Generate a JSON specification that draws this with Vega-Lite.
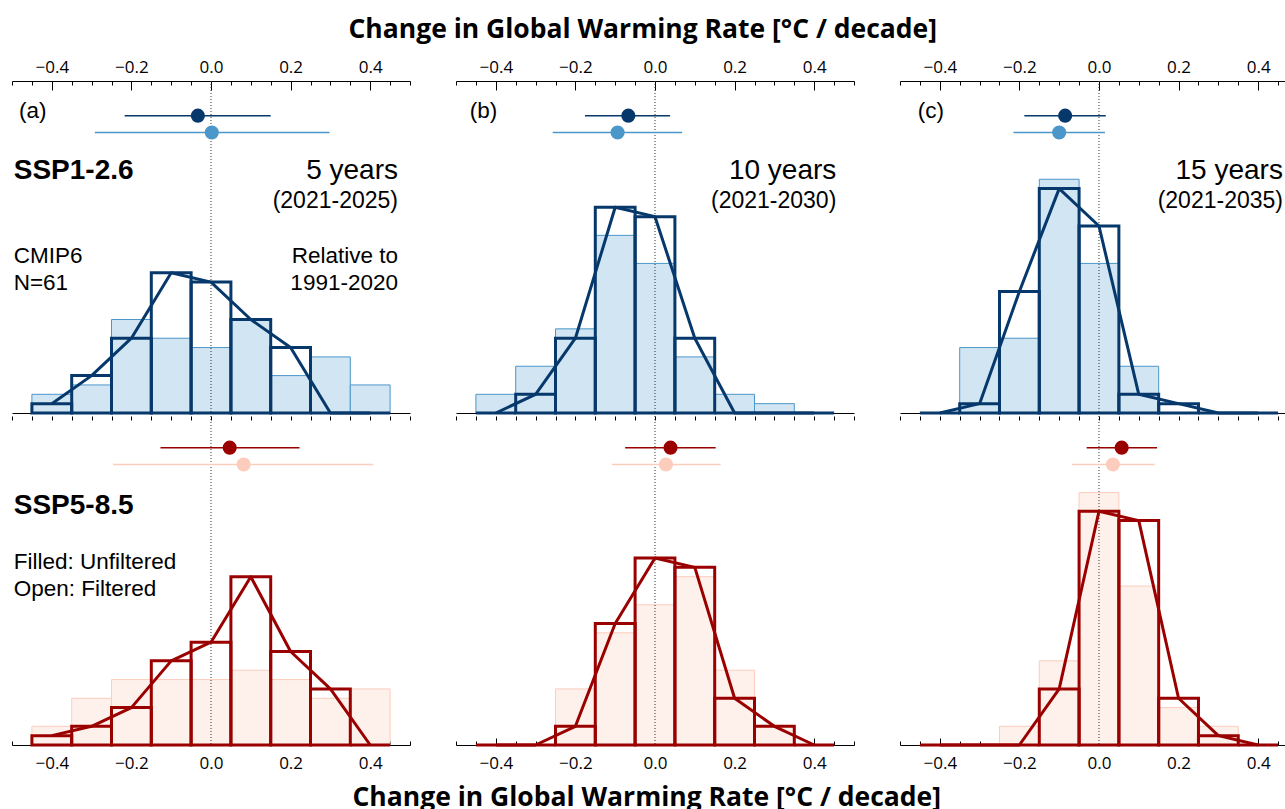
{
  "$schema": "https://vega.github.io/schema/vega-lite/v6.json",
  "padding": {"left": 11, "top": 16, "right": 0, "bottom": 0},
  "config": {"view": {"stroke": null}, "axisY": {"disable": true}},
  "datasets": {
    "hist": [
      {"scenario":"SSP1-2.6","period":5,"bin":-0.4,"lo":-0.45,"hi":-0.35,"unfiltered":2,"filtered":1},
      {"scenario":"SSP1-2.6","period":5,"bin":-0.3,"lo":-0.35,"hi":-0.25,"unfiltered":3,"filtered":4},
      {"scenario":"SSP1-2.6","period":5,"bin":-0.2,"lo":-0.25,"hi":-0.15,"unfiltered":10,"filtered":8},
      {"scenario":"SSP1-2.6","period":5,"bin":-0.1,"lo":-0.15,"hi":-0.05,"unfiltered":8,"filtered":15},
      {"scenario":"SSP1-2.6","period":5,"bin":0.0,"lo":-0.05,"hi":0.05,"unfiltered":7,"filtered":14},
      {"scenario":"SSP1-2.6","period":5,"bin":0.1,"lo":0.05,"hi":0.15,"unfiltered":10,"filtered":10},
      {"scenario":"SSP1-2.6","period":5,"bin":0.2,"lo":0.15,"hi":0.25,"unfiltered":4,"filtered":7},
      {"scenario":"SSP1-2.6","period":5,"bin":0.3,"lo":0.25,"hi":0.35,"unfiltered":6,"filtered":0},
      {"scenario":"SSP1-2.6","period":5,"bin":0.4,"lo":0.35,"hi":0.45,"unfiltered":3,"filtered":0},
      {"scenario":"SSP1-2.6","period":10,"bin":-0.4,"lo":-0.45,"hi":-0.35,"unfiltered":2,"filtered":0},
      {"scenario":"SSP1-2.6","period":10,"bin":-0.3,"lo":-0.35,"hi":-0.25,"unfiltered":5,"filtered":2},
      {"scenario":"SSP1-2.6","period":10,"bin":-0.2,"lo":-0.25,"hi":-0.15,"unfiltered":9,"filtered":8},
      {"scenario":"SSP1-2.6","period":10,"bin":-0.1,"lo":-0.15,"hi":-0.05,"unfiltered":19,"filtered":22},
      {"scenario":"SSP1-2.6","period":10,"bin":0.0,"lo":-0.05,"hi":0.05,"unfiltered":16,"filtered":21},
      {"scenario":"SSP1-2.6","period":10,"bin":0.1,"lo":0.05,"hi":0.15,"unfiltered":6,"filtered":8},
      {"scenario":"SSP1-2.6","period":10,"bin":0.2,"lo":0.15,"hi":0.25,"unfiltered":2,"filtered":0},
      {"scenario":"SSP1-2.6","period":10,"bin":0.3,"lo":0.25,"hi":0.35,"unfiltered":1,"filtered":0},
      {"scenario":"SSP1-2.6","period":10,"bin":0.4,"lo":0.35,"hi":0.45,"unfiltered":0,"filtered":0},
      {"scenario":"SSP1-2.6","period":15,"bin":-0.4,"lo":-0.45,"hi":-0.35,"unfiltered":0,"filtered":0},
      {"scenario":"SSP1-2.6","period":15,"bin":-0.3,"lo":-0.35,"hi":-0.25,"unfiltered":7,"filtered":1},
      {"scenario":"SSP1-2.6","period":15,"bin":-0.2,"lo":-0.25,"hi":-0.15,"unfiltered":8,"filtered":13},
      {"scenario":"SSP1-2.6","period":15,"bin":-0.1,"lo":-0.15,"hi":-0.05,"unfiltered":25,"filtered":24},
      {"scenario":"SSP1-2.6","period":15,"bin":0.0,"lo":-0.05,"hi":0.05,"unfiltered":16,"filtered":20},
      {"scenario":"SSP1-2.6","period":15,"bin":0.1,"lo":0.05,"hi":0.15,"unfiltered":5,"filtered":2},
      {"scenario":"SSP1-2.6","period":15,"bin":0.2,"lo":0.15,"hi":0.25,"unfiltered":0,"filtered":1},
      {"scenario":"SSP1-2.6","period":15,"bin":0.3,"lo":0.25,"hi":0.35,"unfiltered":0,"filtered":0},
      {"scenario":"SSP1-2.6","period":15,"bin":0.4,"lo":0.35,"hi":0.45,"unfiltered":0,"filtered":0},
      {"scenario":"SSP5-8.5","period":5,"bin":-0.4,"lo":-0.45,"hi":-0.35,"unfiltered":2,"filtered":1},
      {"scenario":"SSP5-8.5","period":5,"bin":-0.3,"lo":-0.35,"hi":-0.25,"unfiltered":5,"filtered":2},
      {"scenario":"SSP5-8.5","period":5,"bin":-0.2,"lo":-0.25,"hi":-0.15,"unfiltered":7,"filtered":4},
      {"scenario":"SSP5-8.5","period":5,"bin":-0.1,"lo":-0.15,"hi":-0.05,"unfiltered":7,"filtered":9},
      {"scenario":"SSP5-8.5","period":5,"bin":0.0,"lo":-0.05,"hi":0.05,"unfiltered":7,"filtered":11},
      {"scenario":"SSP5-8.5","period":5,"bin":0.1,"lo":0.05,"hi":0.15,"unfiltered":8,"filtered":18},
      {"scenario":"SSP5-8.5","period":5,"bin":0.2,"lo":0.15,"hi":0.25,"unfiltered":7,"filtered":10},
      {"scenario":"SSP5-8.5","period":5,"bin":0.3,"lo":0.25,"hi":0.35,"unfiltered":5,"filtered":6},
      {"scenario":"SSP5-8.5","period":5,"bin":0.4,"lo":0.35,"hi":0.45,"unfiltered":6,"filtered":0},
      {"scenario":"SSP5-8.5","period":10,"bin":-0.4,"lo":-0.45,"hi":-0.35,"unfiltered":0,"filtered":0},
      {"scenario":"SSP5-8.5","period":10,"bin":-0.3,"lo":-0.35,"hi":-0.25,"unfiltered":0,"filtered":0},
      {"scenario":"SSP5-8.5","period":10,"bin":-0.2,"lo":-0.25,"hi":-0.15,"unfiltered":6,"filtered":2},
      {"scenario":"SSP5-8.5","period":10,"bin":-0.1,"lo":-0.15,"hi":-0.05,"unfiltered":12,"filtered":13},
      {"scenario":"SSP5-8.5","period":10,"bin":0.0,"lo":-0.05,"hi":0.05,"unfiltered":15,"filtered":20},
      {"scenario":"SSP5-8.5","period":10,"bin":0.1,"lo":0.05,"hi":0.15,"unfiltered":18,"filtered":19},
      {"scenario":"SSP5-8.5","period":10,"bin":0.2,"lo":0.15,"hi":0.25,"unfiltered":8,"filtered":5},
      {"scenario":"SSP5-8.5","period":10,"bin":0.3,"lo":0.25,"hi":0.35,"unfiltered":2,"filtered":2},
      {"scenario":"SSP5-8.5","period":10,"bin":0.4,"lo":0.35,"hi":0.45,"unfiltered":0,"filtered":0},
      {"scenario":"SSP5-8.5","period":15,"bin":-0.4,"lo":-0.45,"hi":-0.35,"unfiltered":0,"filtered":0},
      {"scenario":"SSP5-8.5","period":15,"bin":-0.3,"lo":-0.35,"hi":-0.25,"unfiltered":0,"filtered":0},
      {"scenario":"SSP5-8.5","period":15,"bin":-0.2,"lo":-0.25,"hi":-0.15,"unfiltered":2,"filtered":0},
      {"scenario":"SSP5-8.5","period":15,"bin":-0.1,"lo":-0.15,"hi":-0.05,"unfiltered":9,"filtered":6},
      {"scenario":"SSP5-8.5","period":15,"bin":0.0,"lo":-0.05,"hi":0.05,"unfiltered":27,"filtered":25},
      {"scenario":"SSP5-8.5","period":15,"bin":0.1,"lo":0.05,"hi":0.15,"unfiltered":17,"filtered":24},
      {"scenario":"SSP5-8.5","period":15,"bin":0.2,"lo":0.15,"hi":0.25,"unfiltered":4,"filtered":5},
      {"scenario":"SSP5-8.5","period":15,"bin":0.3,"lo":0.25,"hi":0.35,"unfiltered":2,"filtered":1},
      {"scenario":"SSP5-8.5","period":15,"bin":0.4,"lo":0.35,"hi":0.45,"unfiltered":0,"filtered":0}
    ],
    "err": [
      {"scenario":"SSP1-2.6","period":5,"type":"Filtered","mean":-0.033,"lo":-0.217,"hi":0.15},
      {"scenario":"SSP1-2.6","period":5,"type":"Unfiltered","mean":0.002,"lo":-0.292,"hi":0.298},
      {"scenario":"SSP1-2.6","period":10,"type":"Filtered","mean":-0.067,"lo":-0.176,"hi":0.038},
      {"scenario":"SSP1-2.6","period":10,"type":"Unfiltered","mean":-0.094,"lo":-0.257,"hi":0.068},
      {"scenario":"SSP1-2.6","period":15,"type":"Filtered","mean":-0.085,"lo":-0.1875,"hi":0.017},
      {"scenario":"SSP1-2.6","period":15,"type":"Unfiltered","mean":-0.1,"lo":-0.215,"hi":0.015},
      {"scenario":"SSP5-8.5","period":5,"type":"Filtered","mean":0.047,"lo":-0.127,"hi":0.2225},
      {"scenario":"SSP5-8.5","period":5,"type":"Unfiltered","mean":0.082,"lo":-0.246,"hi":0.408},
      {"scenario":"SSP5-8.5","period":10,"type":"Filtered","mean":0.039,"lo":-0.075,"hi":0.1525},
      {"scenario":"SSP5-8.5","period":10,"type":"Unfiltered","mean":0.0275,"lo":-0.108,"hi":0.165},
      {"scenario":"SSP5-8.5","period":15,"type":"Filtered","mean":0.057,"lo":-0.031,"hi":0.146},
      {"scenario":"SSP5-8.5","period":15,"type":"Unfiltered","mean":0.035,"lo":-0.068,"hi":0.14}
    ]
  },
  "spacing": 0,
  "vconcat": [
    {
      "spacing": 44,
      "title": {"text": "Change in Global Warming Rate [°C / decade]", "orient": "top", "anchor": "middle", "font": "Open Sans", "fontSize": 26.5, "fontWeight": "bold", "color": "#000", "offset": 10, "dx": -8},
      "hconcat": [
        {
          "width": 398, "height": 332,
          "resolve": {"axis": {"x": "independent"}},
          "layer": [
            {"data": {"name": "hist"}, "transform": [{"filter": "datum.scenario == 'SSP1-2.6' && datum.period == 5"}],
              "mark": {"type": "rect", "fill": "#d2e5f2", "stroke": "#4b97c9", "strokeWidth": 1},
              "encoding": {
                "x": {"field": "lo", "type": "quantitative", "scale": {"domain": [-0.5, 0.5], "nice": false, "zero": false},
                  "axis": {"orient": "top", "values": [-0.5,-0.45,-0.4,-0.35,-0.3,-0.25,-0.2,-0.15,-0.1,-0.05,0,0.05,0.1,0.15,0.2,0.25,0.3,0.35,0.4,0.45,0.5], "format": ".1f", "labelExpr": "round(datum.value*20) % 4 == 0 ? datum.label : ''", "tickSize": {"condition": {"test": "round(datum.value*20) % 4 == 0", "value": -9}, "value": -4}, "labelPadding": 14, "labelOverlap": false, "labelFont": "Open Sans", "labelFontSize": 17, "labelColor": "#000", "domainColor": "#000", "tickColor": "#000", "grid": false, "title": null}},
                "x2": {"field": "hi"},
                "y": {"field": "unfiltered", "type": "quantitative", "scale": {"domain": [0, 35.51], "nice": false}, "axis": null},
                "y2": {"datum": 0}}},
            {"data": {"values": [{}]}, "mark": {"type": "rule", "stroke": "#333", "strokeWidth": 1, "strokeDash": [1, 2]},
              "encoding": {"x": {"datum": 0, "type": "quantitative", "axis": null}}},
            {"data": {"name": "hist"}, "transform": [{"filter": "datum.scenario == 'SSP1-2.6' && datum.period == 5"}],
              "mark": {"type": "rect", "filled": false, "stroke": "#06386c", "strokeWidth": 3},
              "encoding": {
                "x": {"field": "lo", "type": "quantitative", "axis": {"orient": "bottom", "ticks": false, "labels": false, "domainColor": "#000", "grid": false, "title": null, "minExtent": 0, "maxExtent": 0}},
                "x2": {"field": "hi"},
                "y": {"field": "filtered", "type": "quantitative", "axis": null},
                "y2": {"datum": 0}}},
            {"data": {"name": "hist"}, "transform": [{"filter": "datum.scenario == 'SSP1-2.6' && datum.period == 5"}],
              "mark": {"type": "line", "stroke": "#06386c", "strokeWidth": 3, "strokeJoin": "round"},
              "encoding": {"x": {"field": "bin", "type": "quantitative", "axis": null}, "y": {"field": "filtered", "type": "quantitative", "axis": null}}},
            {"data": {"name": "err"}, "transform": [{"filter": "datum.scenario == 'SSP1-2.6' && datum.period == 5 && datum.type == 'Filtered'"}],
              "mark": {"type": "rule", "stroke": "#06386c", "strokeWidth": 1.5},
              "encoding": {"x": {"field": "lo", "type": "quantitative", "axis": null}, "x2": {"field": "hi"}, "y": {"datum": 31.8, "type": "quantitative", "axis": null}}},
            {"data": {"name": "err"}, "transform": [{"filter": "datum.scenario == 'SSP1-2.6' && datum.period == 5 && datum.type == 'Filtered'"}],
              "mark": {"type": "circle", "color": "#06386c", "size": 200, "opacity": 1},
              "encoding": {"x": {"field": "mean", "type": "quantitative", "axis": null}, "y": {"datum": 31.8, "type": "quantitative", "axis": null}}},
            {"data": {"name": "err"}, "transform": [{"filter": "datum.scenario == 'SSP1-2.6' && datum.period == 5 && datum.type == 'Unfiltered'"}],
              "mark": {"type": "rule", "stroke": "#4b97c9", "strokeWidth": 1.5},
              "encoding": {"x": {"field": "lo", "type": "quantitative", "axis": null}, "x2": {"field": "hi"}, "y": {"datum": 30.0, "type": "quantitative", "axis": null}}},
            {"data": {"name": "err"}, "transform": [{"filter": "datum.scenario == 'SSP1-2.6' && datum.period == 5 && datum.type == 'Unfiltered'"}],
              "mark": {"type": "circle", "color": "#4b97c9", "size": 200, "opacity": 1},
              "encoding": {"x": {"field": "mean", "type": "quantitative", "axis": null}, "y": {"datum": 30.0, "type": "quantitative", "axis": null}}},
            {"data": {"values": [{}]}, "mark": {"type": "text", "text": "(a)", "font": "Liberation Sans", "fontSize": 22.5, "align": "left", "baseline": "alphabetic", "color": "#000"}, "encoding": {"x": {"datum": -0.4824, "type": "quantitative", "axis": null}, "y": {"datum": 31.6, "type": "quantitative", "axis": null}}},
            {"data": {"values": [{}]}, "mark": {"type": "text", "text": "SSP1-2.6", "font": "Liberation Sans", "fontWeight": "bold", "fontSize": 28, "align": "left", "baseline": "alphabetic", "color": "#000"}, "encoding": {"x": {"datum": -0.4957, "type": "quantitative", "axis": null}, "y": {"datum": 25.03, "type": "quantitative", "axis": null}}},
            {"data": {"values": [{}]}, "mark": {"type": "text", "text": "5 years", "font": "Liberation Sans", "fontSize": 28, "align": "right", "baseline": "alphabetic", "color": "#000"}, "encoding": {"x": {"datum": 0.4698, "type": "quantitative", "axis": null}, "y": {"datum": 25.03, "type": "quantitative", "axis": null}}},
            {"data": {"values": [{}]}, "mark": {"type": "text", "text": "(2021-2025)", "font": "Liberation Sans", "fontSize": 23, "align": "right", "baseline": "alphabetic", "color": "#000"}, "encoding": {"x": {"datum": 0.4698, "type": "quantitative", "axis": null}, "y": {"datum": 21.96, "type": "quantitative", "axis": null}}},
            {"data": {"values": [{}]}, "mark": {"type": "text", "text": ["CMIP6", "N=61"], "lineHeight": 27.6, "font": "Liberation Sans", "fontSize": 22.5, "align": "left", "baseline": "alphabetic", "color": "#000"}, "encoding": {"x": {"datum": -0.4957, "type": "quantitative", "axis": null}, "y": {"datum": 16.07, "type": "quantitative", "axis": null}}},
            {"data": {"values": [{}]}, "mark": {"type": "text", "text": ["Relative to", "1991-2020"], "lineHeight": 27.6, "font": "Liberation Sans", "fontSize": 22.5, "align": "right", "baseline": "alphabetic", "color": "#000"}, "encoding": {"x": {"datum": 0.4698, "type": "quantitative", "axis": null}, "y": {"datum": 16.07, "type": "quantitative", "axis": null}}}
          ]
        },
        {
          "width": 398, "height": 332,
          "resolve": {"axis": {"x": "independent"}},
          "layer": [
            {"data": {"name": "hist"}, "transform": [{"filter": "datum.scenario == 'SSP1-2.6' && datum.period == 10"}],
              "mark": {"type": "rect", "fill": "#d2e5f2", "stroke": "#4b97c9", "strokeWidth": 1},
              "encoding": {
                "x": {"field": "lo", "type": "quantitative", "scale": {"domain": [-0.5, 0.5], "nice": false, "zero": false},
                  "axis": {"orient": "top", "values": [-0.5,-0.45,-0.4,-0.35,-0.3,-0.25,-0.2,-0.15,-0.1,-0.05,0,0.05,0.1,0.15,0.2,0.25,0.3,0.35,0.4,0.45,0.5], "format": ".1f", "labelExpr": "round(datum.value*20) % 4 == 0 ? datum.label : ''", "tickSize": {"condition": {"test": "round(datum.value*20) % 4 == 0", "value": -9}, "value": -4}, "labelPadding": 14, "labelOverlap": false, "labelFont": "Open Sans", "labelFontSize": 17, "labelColor": "#000", "domainColor": "#000", "tickColor": "#000", "grid": false, "title": null}},
                "x2": {"field": "hi"},
                "y": {"field": "unfiltered", "type": "quantitative", "scale": {"domain": [0, 35.51], "nice": false}, "axis": null},
                "y2": {"datum": 0}}},
            {"data": {"values": [{}]}, "mark": {"type": "rule", "stroke": "#333", "strokeWidth": 1, "strokeDash": [1, 2]},
              "encoding": {"x": {"datum": 0, "type": "quantitative", "axis": null}}},
            {"data": {"name": "hist"}, "transform": [{"filter": "datum.scenario == 'SSP1-2.6' && datum.period == 10"}],
              "mark": {"type": "rect", "filled": false, "stroke": "#06386c", "strokeWidth": 3},
              "encoding": {
                "x": {"field": "lo", "type": "quantitative", "axis": {"orient": "bottom", "ticks": false, "labels": false, "domainColor": "#000", "grid": false, "title": null, "minExtent": 0, "maxExtent": 0}},
                "x2": {"field": "hi"},
                "y": {"field": "filtered", "type": "quantitative", "axis": null},
                "y2": {"datum": 0}}},
            {"data": {"name": "hist"}, "transform": [{"filter": "datum.scenario == 'SSP1-2.6' && datum.period == 10"}],
              "mark": {"type": "line", "stroke": "#06386c", "strokeWidth": 3, "strokeJoin": "round"},
              "encoding": {"x": {"field": "bin", "type": "quantitative", "axis": null}, "y": {"field": "filtered", "type": "quantitative", "axis": null}}},
            {"data": {"name": "err"}, "transform": [{"filter": "datum.scenario == 'SSP1-2.6' && datum.period == 10 && datum.type == 'Filtered'"}],
              "mark": {"type": "rule", "stroke": "#06386c", "strokeWidth": 1.5},
              "encoding": {"x": {"field": "lo", "type": "quantitative", "axis": null}, "x2": {"field": "hi"}, "y": {"datum": 31.8, "type": "quantitative", "axis": null}}},
            {"data": {"name": "err"}, "transform": [{"filter": "datum.scenario == 'SSP1-2.6' && datum.period == 10 && datum.type == 'Filtered'"}],
              "mark": {"type": "circle", "color": "#06386c", "size": 200, "opacity": 1},
              "encoding": {"x": {"field": "mean", "type": "quantitative", "axis": null}, "y": {"datum": 31.8, "type": "quantitative", "axis": null}}},
            {"data": {"name": "err"}, "transform": [{"filter": "datum.scenario == 'SSP1-2.6' && datum.period == 10 && datum.type == 'Unfiltered'"}],
              "mark": {"type": "rule", "stroke": "#4b97c9", "strokeWidth": 1.5},
              "encoding": {"x": {"field": "lo", "type": "quantitative", "axis": null}, "x2": {"field": "hi"}, "y": {"datum": 30.0, "type": "quantitative", "axis": null}}},
            {"data": {"name": "err"}, "transform": [{"filter": "datum.scenario == 'SSP1-2.6' && datum.period == 10 && datum.type == 'Unfiltered'"}],
              "mark": {"type": "circle", "color": "#4b97c9", "size": 200, "opacity": 1},
              "encoding": {"x": {"field": "mean", "type": "quantitative", "axis": null}, "y": {"datum": 30.0, "type": "quantitative", "axis": null}}},
            {"data": {"values": [{}]}, "mark": {"type": "text", "text": "(b)", "font": "Liberation Sans", "fontSize": 22.5, "align": "left", "baseline": "alphabetic", "color": "#000"}, "encoding": {"x": {"datum": -0.4656, "type": "quantitative", "axis": null}, "y": {"datum": 31.6, "type": "quantitative", "axis": null}}},
            {"data": {"values": [{}]}, "mark": {"type": "text", "text": "10 years", "font": "Liberation Sans", "fontSize": 28, "align": "right", "baseline": "alphabetic", "color": "#000"}, "encoding": {"x": {"datum": 0.4555, "type": "quantitative", "axis": null}, "y": {"datum": 25.03, "type": "quantitative", "axis": null}}},
            {"data": {"values": [{}]}, "mark": {"type": "text", "text": "(2021-2030)", "font": "Liberation Sans", "fontSize": 23, "align": "right", "baseline": "alphabetic", "color": "#000"}, "encoding": {"x": {"datum": 0.4555, "type": "quantitative", "axis": null}, "y": {"datum": 21.96, "type": "quantitative", "axis": null}}}
          ]
        },
        {
          "width": 390, "height": 332,
          "resolve": {"axis": {"x": "independent"}},
          "layer": [
            {"data": {"name": "hist"}, "transform": [{"filter": "datum.scenario == 'SSP1-2.6' && datum.period == 15"}],
              "mark": {"type": "rect", "fill": "#d2e5f2", "stroke": "#4b97c9", "strokeWidth": 1},
              "encoding": {
                "x": {"field": "lo", "type": "quantitative", "scale": {"domain": [-0.5, 0.48], "nice": false, "zero": false},
                  "axis": {"orient": "top", "values": [-0.5,-0.45,-0.4,-0.35,-0.3,-0.25,-0.2,-0.15,-0.1,-0.05,0,0.05,0.1,0.15,0.2,0.25,0.3,0.35,0.4,0.45], "format": ".1f", "labelExpr": "round(datum.value*20) % 4 == 0 ? datum.label : ''", "tickSize": {"condition": {"test": "round(datum.value*20) % 4 == 0", "value": -9}, "value": -4}, "labelPadding": 14, "labelOverlap": false, "labelFont": "Open Sans", "labelFontSize": 17, "labelColor": "#000", "domainColor": "#000", "tickColor": "#000", "grid": false, "title": null}},
                "x2": {"field": "hi"},
                "y": {"field": "unfiltered", "type": "quantitative", "scale": {"domain": [0, 35.51], "nice": false}, "axis": null},
                "y2": {"datum": 0}}},
            {"data": {"values": [{}]}, "mark": {"type": "rule", "stroke": "#333", "strokeWidth": 1, "strokeDash": [1, 2]},
              "encoding": {"x": {"datum": 0, "type": "quantitative", "axis": null}}},
            {"data": {"name": "hist"}, "transform": [{"filter": "datum.scenario == 'SSP1-2.6' && datum.period == 15"}],
              "mark": {"type": "rect", "filled": false, "stroke": "#06386c", "strokeWidth": 3},
              "encoding": {
                "x": {"field": "lo", "type": "quantitative", "axis": {"orient": "bottom", "ticks": false, "labels": false, "domainColor": "#000", "grid": false, "title": null, "minExtent": 0, "maxExtent": 0}},
                "x2": {"field": "hi"},
                "y": {"field": "filtered", "type": "quantitative", "axis": null},
                "y2": {"datum": 0}}},
            {"data": {"name": "hist"}, "transform": [{"filter": "datum.scenario == 'SSP1-2.6' && datum.period == 15"}],
              "mark": {"type": "line", "stroke": "#06386c", "strokeWidth": 3, "strokeJoin": "round"},
              "encoding": {"x": {"field": "bin", "type": "quantitative", "axis": null}, "y": {"field": "filtered", "type": "quantitative", "axis": null}}},
            {"data": {"name": "err"}, "transform": [{"filter": "datum.scenario == 'SSP1-2.6' && datum.period == 15 && datum.type == 'Filtered'"}],
              "mark": {"type": "rule", "stroke": "#06386c", "strokeWidth": 1.5},
              "encoding": {"x": {"field": "lo", "type": "quantitative", "axis": null}, "x2": {"field": "hi"}, "y": {"datum": 31.8, "type": "quantitative", "axis": null}}},
            {"data": {"name": "err"}, "transform": [{"filter": "datum.scenario == 'SSP1-2.6' && datum.period == 15 && datum.type == 'Filtered'"}],
              "mark": {"type": "circle", "color": "#06386c", "size": 200, "opacity": 1},
              "encoding": {"x": {"field": "mean", "type": "quantitative", "axis": null}, "y": {"datum": 31.8, "type": "quantitative", "axis": null}}},
            {"data": {"name": "err"}, "transform": [{"filter": "datum.scenario == 'SSP1-2.6' && datum.period == 15 && datum.type == 'Unfiltered'"}],
              "mark": {"type": "rule", "stroke": "#4b97c9", "strokeWidth": 1.5},
              "encoding": {"x": {"field": "lo", "type": "quantitative", "axis": null}, "x2": {"field": "hi"}, "y": {"datum": 30.0, "type": "quantitative", "axis": null}}},
            {"data": {"name": "err"}, "transform": [{"filter": "datum.scenario == 'SSP1-2.6' && datum.period == 15 && datum.type == 'Unfiltered'"}],
              "mark": {"type": "circle", "color": "#4b97c9", "size": 200, "opacity": 1},
              "encoding": {"x": {"field": "mean", "type": "quantitative", "axis": null}, "y": {"datum": 30.0, "type": "quantitative", "axis": null}}},
            {"data": {"values": [{}]}, "mark": {"type": "text", "text": "(c)", "font": "Liberation Sans", "fontSize": 22.5, "align": "left", "baseline": "alphabetic", "color": "#000"}, "encoding": {"x": {"datum": -0.4556, "type": "quantitative", "axis": null}, "y": {"datum": 31.6, "type": "quantitative", "axis": null}}},
            {"data": {"values": [{}]}, "mark": {"type": "text", "text": "15 years", "font": "Liberation Sans", "fontSize": 28, "align": "right", "baseline": "alphabetic", "color": "#000"}, "encoding": {"x": {"datum": 0.4623, "type": "quantitative", "axis": null}, "y": {"datum": 25.03, "type": "quantitative", "axis": null}}},
            {"data": {"values": [{}]}, "mark": {"type": "text", "text": "(2021-2035)", "font": "Liberation Sans", "fontSize": 23, "align": "right", "baseline": "alphabetic", "color": "#000"}, "encoding": {"x": {"datum": 0.4623, "type": "quantitative", "axis": null}, "y": {"datum": 21.96, "type": "quantitative", "axis": null}}}
          ]
        }
      ]
    },
    {
      "spacing": 44,
      "title": {"text": "Change in Global Warming Rate [°C / decade]", "orient": "bottom", "anchor": "middle", "font": "Open Sans", "fontSize": 26.5, "fontWeight": "bold", "color": "#000", "offset": 11, "dx": -4},
      "hconcat": [
        {
          "width": 398, "height": 329,
          "resolve": {"axis": {"x": "independent"}},
          "layer": [
            {"data": {"name": "hist"}, "transform": [{"filter": "datum.scenario == 'SSP5-8.5' && datum.period == 5"}],
              "mark": {"type": "rect", "fill": "#fef0ea", "stroke": "#fccdbd", "strokeWidth": 1},
              "encoding": {
                "x": {"field": "lo", "type": "quantitative", "scale": {"domain": [-0.5, 0.5], "nice": false, "zero": false},
                  "axis": {"orient": "top", "values": [-0.5,-0.45,-0.4,-0.35,-0.3,-0.25,-0.2,-0.15,-0.1,-0.05,0,0.05,0.1,0.15,0.2,0.25,0.3,0.35,0.4,0.45,0.5], "domain": false, "labels": false, "tickSize": -4, "tickColor": "#000", "grid": false, "title": null, "minExtent": 0, "maxExtent": 0}},
                "x2": {"field": "hi"},
                "y": {"field": "unfiltered", "type": "quantitative", "scale": {"domain": [0, 35.19], "nice": false}, "axis": null},
                "y2": {"datum": 0}}},
            {"data": {"values": [{}]}, "mark": {"type": "rule", "stroke": "#333", "strokeWidth": 1, "strokeDash": [1, 2]},
              "encoding": {"x": {"datum": 0, "type": "quantitative", "axis": null}}},
            {"data": {"name": "hist"}, "transform": [{"filter": "datum.scenario == 'SSP5-8.5' && datum.period == 5"}],
              "mark": {"type": "rect", "filled": false, "stroke": "#9a0000", "strokeWidth": 3},
              "encoding": {
                "x": {"field": "lo", "type": "quantitative", "axis": {"orient": "bottom", "values": [-0.5,-0.45,-0.4,-0.35,-0.3,-0.25,-0.2,-0.15,-0.1,-0.05,0,0.05,0.1,0.15,0.2,0.25,0.3,0.35,0.4,0.45,0.5], "format": ".1f", "labelExpr": "round(datum.value*20) % 4 == 0 ? datum.label : ''", "tickSize": {"condition": {"test": "round(datum.value*20) % 4 == 0", "value": -7}, "value": -4}, "labelPadding": 17, "labelOverlap": false, "labelFont": "Open Sans", "labelFontSize": 17, "labelColor": "#000", "domainColor": "#000", "tickColor": "#000", "grid": false, "title": null}},
                "x2": {"field": "hi"},
                "y": {"field": "filtered", "type": "quantitative", "axis": null},
                "y2": {"datum": 0}}},
            {"data": {"name": "hist"}, "transform": [{"filter": "datum.scenario == 'SSP5-8.5' && datum.period == 5"}],
              "mark": {"type": "line", "stroke": "#9a0000", "strokeWidth": 3, "strokeJoin": "round"},
              "encoding": {"x": {"field": "bin", "type": "quantitative", "axis": null}, "y": {"field": "filtered", "type": "quantitative", "axis": null}}},
            {"data": {"name": "err"}, "transform": [{"filter": "datum.scenario == 'SSP5-8.5' && datum.period == 5 && datum.type == 'Filtered'"}],
              "mark": {"type": "rule", "stroke": "#9a0000", "strokeWidth": 1.5},
              "encoding": {"x": {"field": "lo", "type": "quantitative", "axis": null}, "x2": {"field": "hi"}, "y": {"datum": 31.8, "type": "quantitative", "axis": null}}},
            {"data": {"name": "err"}, "transform": [{"filter": "datum.scenario == 'SSP5-8.5' && datum.period == 5 && datum.type == 'Filtered'"}],
              "mark": {"type": "circle", "color": "#9a0000", "size": 200, "opacity": 1},
              "encoding": {"x": {"field": "mean", "type": "quantitative", "axis": null}, "y": {"datum": 31.8, "type": "quantitative", "axis": null}}},
            {"data": {"name": "err"}, "transform": [{"filter": "datum.scenario == 'SSP5-8.5' && datum.period == 5 && datum.type == 'Unfiltered'"}],
              "mark": {"type": "rule", "stroke": "#fccdbd", "strokeWidth": 1.5},
              "encoding": {"x": {"field": "lo", "type": "quantitative", "axis": null}, "x2": {"field": "hi"}, "y": {"datum": 30.0, "type": "quantitative", "axis": null}}},
            {"data": {"name": "err"}, "transform": [{"filter": "datum.scenario == 'SSP5-8.5' && datum.period == 5 && datum.type == 'Unfiltered'"}],
              "mark": {"type": "circle", "color": "#fccdbd", "size": 200, "opacity": 1},
              "encoding": {"x": {"field": "mean", "type": "quantitative", "axis": null}, "y": {"datum": 30.0, "type": "quantitative", "axis": null}}},
            {"data": {"values": [{}]}, "mark": {"type": "text", "text": "SSP5-8.5", "font": "Liberation Sans", "fontWeight": "bold", "fontSize": 28, "align": "left", "baseline": "alphabetic", "color": "#000"}, "encoding": {"x": {"datum": -0.4957, "type": "quantitative", "axis": null}, "y": {"datum": 24.74, "type": "quantitative", "axis": null}}},
            {"data": {"values": [{}]}, "mark": {"type": "text", "text": ["Filled: Unfiltered", "Open: Filtered"], "lineHeight": 27.3, "font": "Liberation Sans", "fontSize": 22.5, "align": "left", "baseline": "alphabetic", "color": "#000"}, "encoding": {"x": {"datum": -0.4957, "type": "quantitative", "axis": null}, "y": {"datum": 18.86, "type": "quantitative", "axis": null}}}
          ]
        },
        {
          "width": 398, "height": 329,
          "resolve": {"axis": {"x": "independent"}},
          "layer": [
            {"data": {"name": "hist"}, "transform": [{"filter": "datum.scenario == 'SSP5-8.5' && datum.period == 10"}],
              "mark": {"type": "rect", "fill": "#fef0ea", "stroke": "#fccdbd", "strokeWidth": 1},
              "encoding": {
                "x": {"field": "lo", "type": "quantitative", "scale": {"domain": [-0.5, 0.5], "nice": false, "zero": false},
                  "axis": {"orient": "top", "values": [-0.5,-0.45,-0.4,-0.35,-0.3,-0.25,-0.2,-0.15,-0.1,-0.05,0,0.05,0.1,0.15,0.2,0.25,0.3,0.35,0.4,0.45,0.5], "domain": false, "labels": false, "tickSize": -4, "tickColor": "#000", "grid": false, "title": null, "minExtent": 0, "maxExtent": 0}},
                "x2": {"field": "hi"},
                "y": {"field": "unfiltered", "type": "quantitative", "scale": {"domain": [0, 35.19], "nice": false}, "axis": null},
                "y2": {"datum": 0}}},
            {"data": {"values": [{}]}, "mark": {"type": "rule", "stroke": "#333", "strokeWidth": 1, "strokeDash": [1, 2]},
              "encoding": {"x": {"datum": 0, "type": "quantitative", "axis": null}}},
            {"data": {"name": "hist"}, "transform": [{"filter": "datum.scenario == 'SSP5-8.5' && datum.period == 10"}],
              "mark": {"type": "rect", "filled": false, "stroke": "#9a0000", "strokeWidth": 3},
              "encoding": {
                "x": {"field": "lo", "type": "quantitative", "axis": {"orient": "bottom", "values": [-0.5,-0.45,-0.4,-0.35,-0.3,-0.25,-0.2,-0.15,-0.1,-0.05,0,0.05,0.1,0.15,0.2,0.25,0.3,0.35,0.4,0.45,0.5], "format": ".1f", "labelExpr": "round(datum.value*20) % 4 == 0 ? datum.label : ''", "tickSize": {"condition": {"test": "round(datum.value*20) % 4 == 0", "value": -7}, "value": -4}, "labelPadding": 17, "labelOverlap": false, "labelFont": "Open Sans", "labelFontSize": 17, "labelColor": "#000", "domainColor": "#000", "tickColor": "#000", "grid": false, "title": null}},
                "x2": {"field": "hi"},
                "y": {"field": "filtered", "type": "quantitative", "axis": null},
                "y2": {"datum": 0}}},
            {"data": {"name": "hist"}, "transform": [{"filter": "datum.scenario == 'SSP5-8.5' && datum.period == 10"}],
              "mark": {"type": "line", "stroke": "#9a0000", "strokeWidth": 3, "strokeJoin": "round"},
              "encoding": {"x": {"field": "bin", "type": "quantitative", "axis": null}, "y": {"field": "filtered", "type": "quantitative", "axis": null}}},
            {"data": {"name": "err"}, "transform": [{"filter": "datum.scenario == 'SSP5-8.5' && datum.period == 10 && datum.type == 'Filtered'"}],
              "mark": {"type": "rule", "stroke": "#9a0000", "strokeWidth": 1.5},
              "encoding": {"x": {"field": "lo", "type": "quantitative", "axis": null}, "x2": {"field": "hi"}, "y": {"datum": 31.8, "type": "quantitative", "axis": null}}},
            {"data": {"name": "err"}, "transform": [{"filter": "datum.scenario == 'SSP5-8.5' && datum.period == 10 && datum.type == 'Filtered'"}],
              "mark": {"type": "circle", "color": "#9a0000", "size": 200, "opacity": 1},
              "encoding": {"x": {"field": "mean", "type": "quantitative", "axis": null}, "y": {"datum": 31.8, "type": "quantitative", "axis": null}}},
            {"data": {"name": "err"}, "transform": [{"filter": "datum.scenario == 'SSP5-8.5' && datum.period == 10 && datum.type == 'Unfiltered'"}],
              "mark": {"type": "rule", "stroke": "#fccdbd", "strokeWidth": 1.5},
              "encoding": {"x": {"field": "lo", "type": "quantitative", "axis": null}, "x2": {"field": "hi"}, "y": {"datum": 30.0, "type": "quantitative", "axis": null}}},
            {"data": {"name": "err"}, "transform": [{"filter": "datum.scenario == 'SSP5-8.5' && datum.period == 10 && datum.type == 'Unfiltered'"}],
              "mark": {"type": "circle", "color": "#fccdbd", "size": 200, "opacity": 1},
              "encoding": {"x": {"field": "mean", "type": "quantitative", "axis": null}, "y": {"datum": 30.0, "type": "quantitative", "axis": null}}}
          ]
        },
        {
          "width": 390, "height": 329,
          "resolve": {"axis": {"x": "independent"}},
          "layer": [
            {"data": {"name": "hist"}, "transform": [{"filter": "datum.scenario == 'SSP5-8.5' && datum.period == 15"}],
              "mark": {"type": "rect", "fill": "#fef0ea", "stroke": "#fccdbd", "strokeWidth": 1},
              "encoding": {
                "x": {"field": "lo", "type": "quantitative", "scale": {"domain": [-0.5, 0.48], "nice": false, "zero": false},
                  "axis": {"orient": "top", "values": [-0.5,-0.45,-0.4,-0.35,-0.3,-0.25,-0.2,-0.15,-0.1,-0.05,0,0.05,0.1,0.15,0.2,0.25,0.3,0.35,0.4,0.45], "domain": false, "labels": false, "tickSize": -4, "tickColor": "#000", "grid": false, "title": null, "minExtent": 0, "maxExtent": 0}},
                "x2": {"field": "hi"},
                "y": {"field": "unfiltered", "type": "quantitative", "scale": {"domain": [0, 35.19], "nice": false}, "axis": null},
                "y2": {"datum": 0}}},
            {"data": {"values": [{}]}, "mark": {"type": "rule", "stroke": "#333", "strokeWidth": 1, "strokeDash": [1, 2]},
              "encoding": {"x": {"datum": 0, "type": "quantitative", "axis": null}}},
            {"data": {"name": "hist"}, "transform": [{"filter": "datum.scenario == 'SSP5-8.5' && datum.period == 15"}],
              "mark": {"type": "rect", "filled": false, "stroke": "#9a0000", "strokeWidth": 3},
              "encoding": {
                "x": {"field": "lo", "type": "quantitative", "axis": {"orient": "bottom", "values": [-0.5,-0.45,-0.4,-0.35,-0.3,-0.25,-0.2,-0.15,-0.1,-0.05,0,0.05,0.1,0.15,0.2,0.25,0.3,0.35,0.4,0.45], "format": ".1f", "labelExpr": "round(datum.value*20) % 4 == 0 ? datum.label : ''", "tickSize": {"condition": {"test": "round(datum.value*20) % 4 == 0", "value": -7}, "value": -4}, "labelPadding": 17, "labelOverlap": false, "labelFont": "Open Sans", "labelFontSize": 17, "labelColor": "#000", "domainColor": "#000", "tickColor": "#000", "grid": false, "title": null}},
                "x2": {"field": "hi"},
                "y": {"field": "filtered", "type": "quantitative", "axis": null},
                "y2": {"datum": 0}}},
            {"data": {"name": "hist"}, "transform": [{"filter": "datum.scenario == 'SSP5-8.5' && datum.period == 15"}],
              "mark": {"type": "line", "stroke": "#9a0000", "strokeWidth": 3, "strokeJoin": "round"},
              "encoding": {"x": {"field": "bin", "type": "quantitative", "axis": null}, "y": {"field": "filtered", "type": "quantitative", "axis": null}}},
            {"data": {"name": "err"}, "transform": [{"filter": "datum.scenario == 'SSP5-8.5' && datum.period == 15 && datum.type == 'Filtered'"}],
              "mark": {"type": "rule", "stroke": "#9a0000", "strokeWidth": 1.5},
              "encoding": {"x": {"field": "lo", "type": "quantitative", "axis": null}, "x2": {"field": "hi"}, "y": {"datum": 31.8, "type": "quantitative", "axis": null}}},
            {"data": {"name": "err"}, "transform": [{"filter": "datum.scenario == 'SSP5-8.5' && datum.period == 15 && datum.type == 'Filtered'"}],
              "mark": {"type": "circle", "color": "#9a0000", "size": 200, "opacity": 1},
              "encoding": {"x": {"field": "mean", "type": "quantitative", "axis": null}, "y": {"datum": 31.8, "type": "quantitative", "axis": null}}},
            {"data": {"name": "err"}, "transform": [{"filter": "datum.scenario == 'SSP5-8.5' && datum.period == 15 && datum.type == 'Unfiltered'"}],
              "mark": {"type": "rule", "stroke": "#fccdbd", "strokeWidth": 1.5},
              "encoding": {"x": {"field": "lo", "type": "quantitative", "axis": null}, "x2": {"field": "hi"}, "y": {"datum": 30.0, "type": "quantitative", "axis": null}}},
            {"data": {"name": "err"}, "transform": [{"filter": "datum.scenario == 'SSP5-8.5' && datum.period == 15 && datum.type == 'Unfiltered'"}],
              "mark": {"type": "circle", "color": "#fccdbd", "size": 200, "opacity": 1},
              "encoding": {"x": {"field": "mean", "type": "quantitative", "axis": null}, "y": {"datum": 30.0, "type": "quantitative", "axis": null}}}
          ]
        }
      ]
    }
  ]
}
